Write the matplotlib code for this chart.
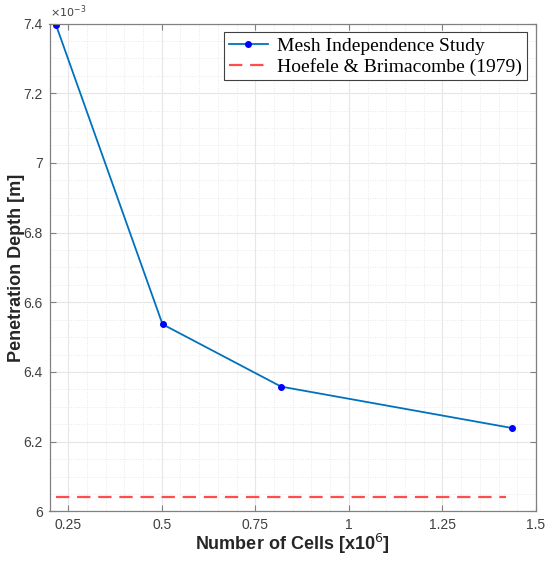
import matplotlib
matplotlib.use('Agg')
import matplotlib.pyplot as plt
from matplotlib.ticker import MultipleLocator, FuncFormatter

# mesh study data (cells in millions, depth in metres)
cells = [0.217, 0.502, 0.819, 1.437]
depth = [7.397e-3, 6.537e-3, 6.358e-3, 6.239e-3]

# reference value from Hoefele & Brimacombe (1979)
ref_x = [0.217, 1.421]
ref_depth = [6.041e-3, 6.041e-3]

plt.rcParams['font.family'] = ['Liberation Sans', 'DejaVu Sans']

fig = plt.figure(figsize=(5.5, 5.64), dpi=100)
ax = fig.add_axes([0.09, 0.0933, 0.8845, 0.865])

ax.plot(cells, [d * 1e3 for d in depth], color='#0072BD', linewidth=1.3,
        marker='.', markersize=8, markerfacecolor='b', markeredgecolor='b',
        label='Mesh Independence Study')
ax.plot(ref_x, [d * 1e3 for d in ref_depth], color='#FF4D4D', linewidth=1.6,
        linestyle=(0, (6, 3.5)), label='Hoefele & Brimacombe (1979)')

ax.set_xlim(0.2, 1.5)
ax.set_ylim(6.0, 7.4)
ax.xaxis.set_major_locator(MultipleLocator(0.25))
ax.xaxis.set_minor_locator(MultipleLocator(0.05))
ax.yaxis.set_major_locator(MultipleLocator(0.2))
ax.yaxis.set_minor_locator(MultipleLocator(0.05))
fmt = FuncFormatter(lambda v, p: '%g' % round(v, 4))
ax.xaxis.set_major_formatter(fmt)
ax.yaxis.set_major_formatter(fmt)

ax.grid(True, which='major', color='#e6e6e6', linewidth=0.8)
ax.grid(True, which='minor', color='#e8e8e8', linewidth=0.7, linestyle=':')
ax.set_axisbelow(True)

ax.tick_params(which='major', direction='in', top=True, right=True,
               length=4, width=0.8, color='#808080', labelsize=10,
               labelcolor='#404040', pad=5)
ax.tick_params(which='minor', length=0)
for s in ax.spines.values():
    s.set_color('#808080')
    s.set_linewidth(0.9)

ax.set_xlabel('Number of Cells [x10$^{6}$]', fontsize=13, fontweight='bold',
              color='#262626', labelpad=0)
ax.set_ylabel('Penetration Depth [m]', fontsize=13, fontweight='bold',
              color='#262626', labelpad=-1)
ax.text(0.0, 1.008, r'$\times10^{-3}$', transform=ax.transAxes, fontsize=8,
        color='#404040', ha='left', va='bottom')

leg = ax.legend(loc='upper right', bbox_to_anchor=(0.99, 0.99),
                prop={'family': 'Liberation Serif', 'size': 14},
                fancybox=False, framealpha=1, edgecolor='#404040',
                borderpad=0.25, labelspacing=0.15, handlelength=2.0,
                handletextpad=0.5, borderaxespad=0.2)
leg.get_frame().set_linewidth(0.8)

fig.savefig('out.png', dpi=100)
